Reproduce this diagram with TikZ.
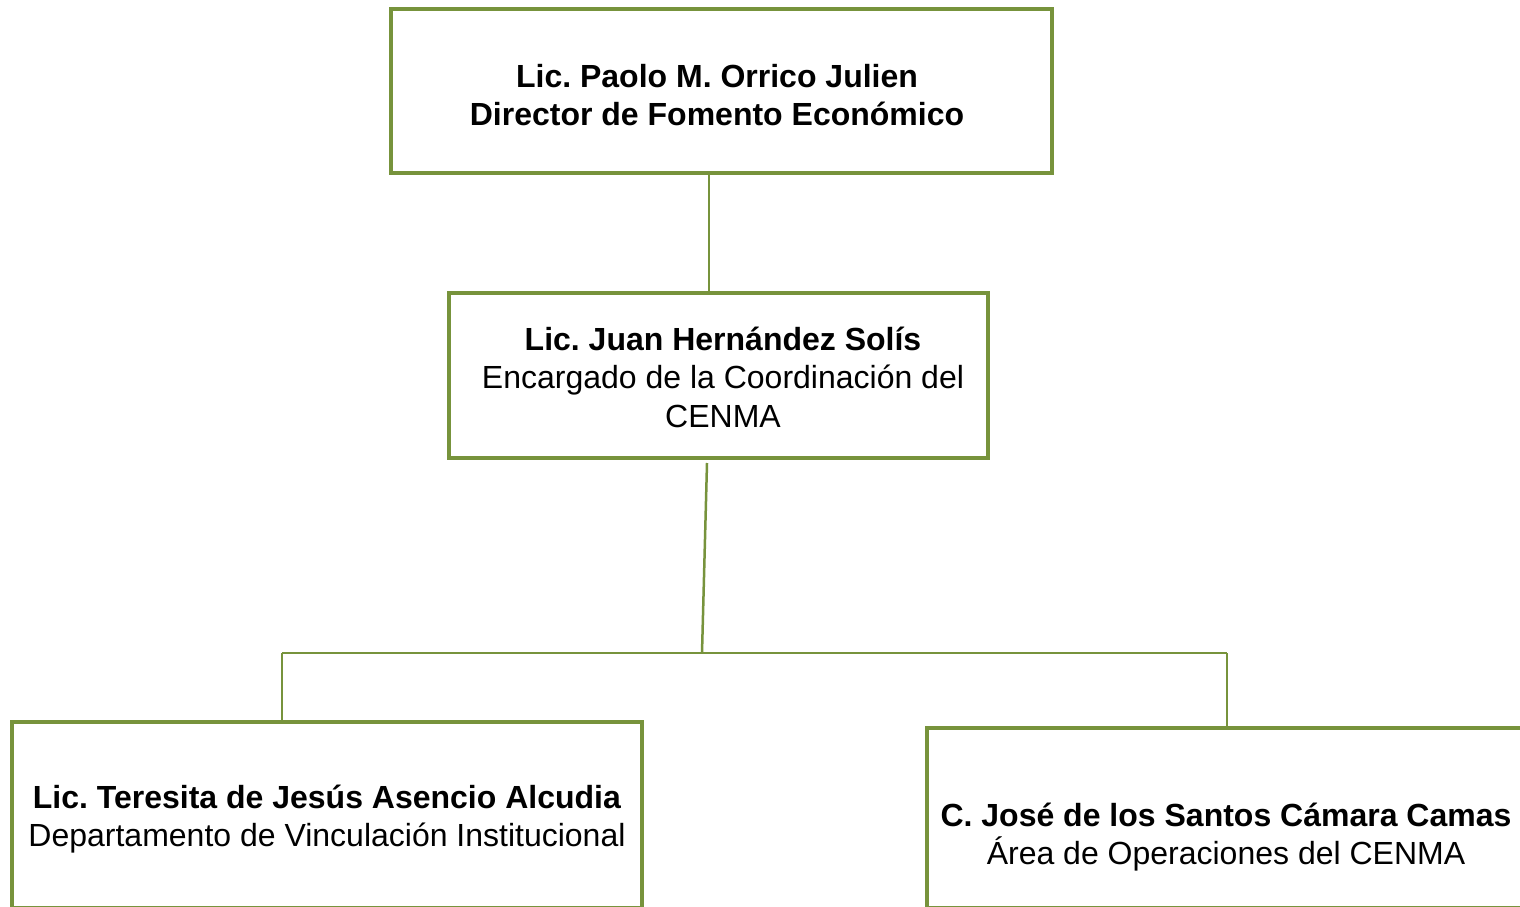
\documentclass[tikz,border=0pt]{standalone}
\usepackage{fontspec}
\setmainfont{Liberation Sans}
\definecolor{olive}{HTML}{77933C}
\begin{document}
\begin{tikzpicture}[x=1pt,y=-1pt,
  box/.style={draw=olive, line width=4pt, rectangle, inner sep=0pt, fill=white},
  txt/.style={align=center, inner sep=0pt, font=\frenchspacing\fontsize{32}{38.5}\selectfont},
  conn/.style={draw=olive, line width=2.5pt}]
\clip (0,0) rectangle (1520,907);
\fill[white] (0,0) rectangle (1520,907);
% boxes
\node[box, minimum width=661pt, minimum height=164pt] (b1) at (721.5,91) {};
\node[box, minimum width=539pt, minimum height=165pt] (b2) at (718.5,375.5) {};
\node[box, minimum width=630pt, minimum height=186pt] (b3) at (327,815) {};
\node[box, minimum width=603pt, minimum height=180pt] (b4) at (1228.5,818) {};
% texts
\node[txt] (t1) at (717,95) {\textbf{Lic. Paolo M. Orrico Julien}\\\textbf{Director de Fomento Económico}};
\node[txt] (t2) at (723,377) {\textbf{Lic. Juan Hernández Solís}\\Encargado de la Coordinación del\\CENMA};
\node[txt] (t3) at (327,819) {\textbf{Lic. Teresita de Jesús Asencio Alcudia}\\Departamento de Vinculación Institucional};
\node[txt] (t4) at (1226,837) {\textbf{C. José de los Santos Cámara Camas}\\Área de Operaciones del CENMA};
% connectors
\coordinate (c1) at (709,0);
\draw[conn] (c1 |- b1.south) -- (c1 |- b2.north);
\coordinate (s1) at (707,463);
\coordinate (j) at (702,653);
\draw[conn] (s1) -- (j);
\coordinate (hl) at (282,653);
\coordinate (hr) at (1227,653);
\draw[conn] (hl) -- (hr);
\draw[conn] (hl) -- ([yshift=-4pt]hl |- b3.north);
\draw[conn] (hr) -- (hr |- b4.north);
\end{tikzpicture}
\end{document}
